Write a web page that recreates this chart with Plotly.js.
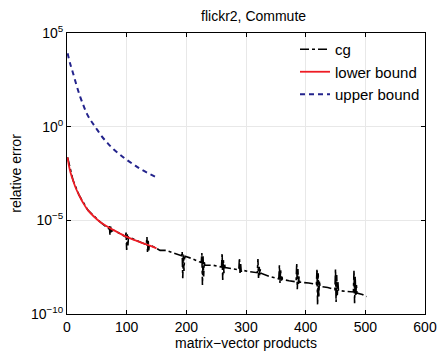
<!DOCTYPE html>
<html><head><meta charset="utf-8">
<script src="https://cdn.plot.ly/plotly-3.0.1.min.js"></script>
<style>body{margin:0;background:#fff}#chart{width:441px;height:356px}</style>
</head><body><div id="chart"></div>
<script>
// upper bound
const upperX = [1, 5, 10, 16, 22, 28, 33, 40, 47, 58, 68, 78, 90, 100, 112, 122, 135, 148];
const upperY = [8.3e3, 2.5e3, 7.4e2, 1.6e2, 4e1, 1.26e1, 5.1, 2.1, 1.0, 3.16e-1, 1.32e-1, 6.3e-2, 3.0e-2, 1.7e-2, 9.3e-3, 5.75e-3, 3.4e-3, 2.1e-3];
// lower bound
const lowerX = [1, 3, 6, 10, 15, 20, 27, 35, 45, 55, 66, 78, 90, 100, 115, 128, 140, 150];
const lowerY = [2.3e-2, 9e-3, 3.5e-3, 1.4e-3, 5e-4, 2.3e-4, 8.5e-5, 3.5e-5, 1.6e-5, 8.5e-6, 5e-6, 3e-6, 1.9e-6, 1.3e-6, 8.5e-7, 5.9e-7, 4.3e-7, 3.2e-7];
// cg
const cgX = [1, 10, 20, 35, 55, 68, 70, 71, 72, 73, 74, 78, 90, 98, 99, 100, 101, 102, 103, 115, 128, 133, 134, 135, 136, 137, 138, 150, 156, 166, 175,
  192, 193, 194, 195, 196, 197, 198, 210,
  225, 226, 227, 228, 229, 230, 231, 245,
  259, 260, 261, 262, 263, 264, 265, 277,
  288, 289, 290, 291, 292, 293, 307,
  319, 320, 321, 322, 323, 324, 325, 340,
  355, 356, 357, 358, 359, 360, 361, 372,
  384, 385, 386, 387, 388, 389, 390, 405,
  418, 419, 420, 421, 422, 423, 424, 437,
  449, 450, 451, 452, 453, 454, 455, 468,
  480, 481, 482, 483, 484, 485, 486, 495, 502];
const cgY = [2.3e-2, 1.4e-3, 2.3e-4, 3.5e-5, 8.5e-6, 4e-6, 3.5e-6, 5.6e-6, 1.7e-6, 5e-6, 2.5e-6, 3e-6, 1.9e-6, 1.35e-6, 2.2e-6, 2.6e-7, 1.8e-6, 4e-7, 1.3e-6, 8.5e-7, 5.9e-7, 5e-7, 1.3e-6, 1.8e-7, 9e-7, 2.5e-7, 5e-7, 3.2e-7, 2.5e-7, 2.5e-7, 2e-7,
  1.3e-7, 2.1e-7, 8e-9, 1.5e-7, 2e-8, 9e-8, 1.2e-7, 9e-8,
  5.5e-8, 1.8e-7, 3.5e-9, 1.2e-7, 1e-8, 6e-8, 4e-8, 4e-8,
  3.2e-8, 1.8e-7, 6.5e-9, 9e-8, 1.5e-8, 5e-8, 3e-8, 2.6e-8,
  2.3e-8, 9.8e-8, 1.55e-8, 5e-8, 1.8e-8, 2.2e-8, 1.8e-8,
  1.6e-8, 8.5e-8, 8.3e-9, 4e-8, 1.2e-8, 2.5e-8, 1.5e-8, 1e-8,
  7.5e-9, 4e-8, 4.5e-9, 2.5e-8, 6e-9, 1.2e-8, 7e-9, 6e-9,
  5.2e-9, 5.2e-8, 2.1e-9, 2.5e-8, 4e-9, 1e-8, 5e-9, 4.5e-9,
  3.8e-9, 2.5e-8, 3e-10, 1.5e-8, 8e-10, 6e-9, 3e-9, 2.6e-9,
  2e-9, 2.5e-8, 4.4e-10, 1.2e-8, 1e-9, 5e-9, 1.8e-9, 1.6e-9,
  1.5e-9, 2.2e-8, 3.8e-10, 1e-8, 9e-10, 4e-9, 1.3e-9, 1.1e-9, 8.5e-10];

const xTicks = [0, 100, 200, 300, 400, 500, 600];
const yTickVals = [1e5, 1, 1e-5, 1e-10];
const yTickText = ['10<sup>5</sup>', '10<sup>0</sup>', '10<sup>−5</sup>', '10<sup>−10</sup>'];

const traces = [
  {x: cgX, y: cgY, name: 'cg', mode: 'lines', line: {color: '#000', width: 1.6, dash: 'dashdot'}},
  {x: lowerX, y: lowerY, name: 'lower bound', mode: 'lines', line: {color: '#ee1c24', width: 1.8, shape: 'spline'}},
  {x: upperX, y: upperY, name: 'upper bound', mode: 'lines', line: {color: '#23238c', width: 2, dash: '5px,4px', shape: 'spline'}}
];
const font = {family: 'Liberation Sans, Arial, sans-serif', size: 14, color: '#000'};
const layout = {
  width: 441, height: 356,
  margin: {l: 67, r: 16, t: 33, b: 42},
  paper_bgcolor: '#fff', plot_bgcolor: '#fff',
  font: font,
  title: {text: 'flickr2, Commute', x: 0.575, xanchor: 'center', y: 0.955, yanchor: 'middle', font: {family: font.family, size: 14, color: '#000'}},
  showlegend: true,
  legend: {x: 1.0, y: 1.0, xanchor: 'right', yanchor: 'top', bgcolor: 'rgba(255,255,255,0)', font: {family: font.family, size: 15}, tracegroupgap: 0, itemwidth: 30},
  xaxis: {range: [0, 600], tickvals: xTicks, ticks: 'inside', ticklen: 4, tickcolor: '#000',
    showline: true, linecolor: '#000', linewidth: 1, mirror: 'ticks', zeroline: false,
    showgrid: true, gridcolor: '#e8e8e8', tickfont: font,
    title: {text: 'matrix−vector products', font: font, standoff: 2}},
  yaxis: {type: 'log', range: [-10, 5], tickvals: yTickVals, ticktext: yTickText, ticks: 'inside', ticklen: 4, tickcolor: '#000',
    showline: true, linecolor: '#000', linewidth: 1, mirror: 'ticks', zeroline: false,
    showgrid: true, gridcolor: '#e8e8e8', tickfont: font,
    title: {text: 'relative error', font: font, standoff: 6}}
};
Plotly.newPlot('chart', traces, layout, {displayModeBar: false, staticPlot: true});
</script></body></html>
